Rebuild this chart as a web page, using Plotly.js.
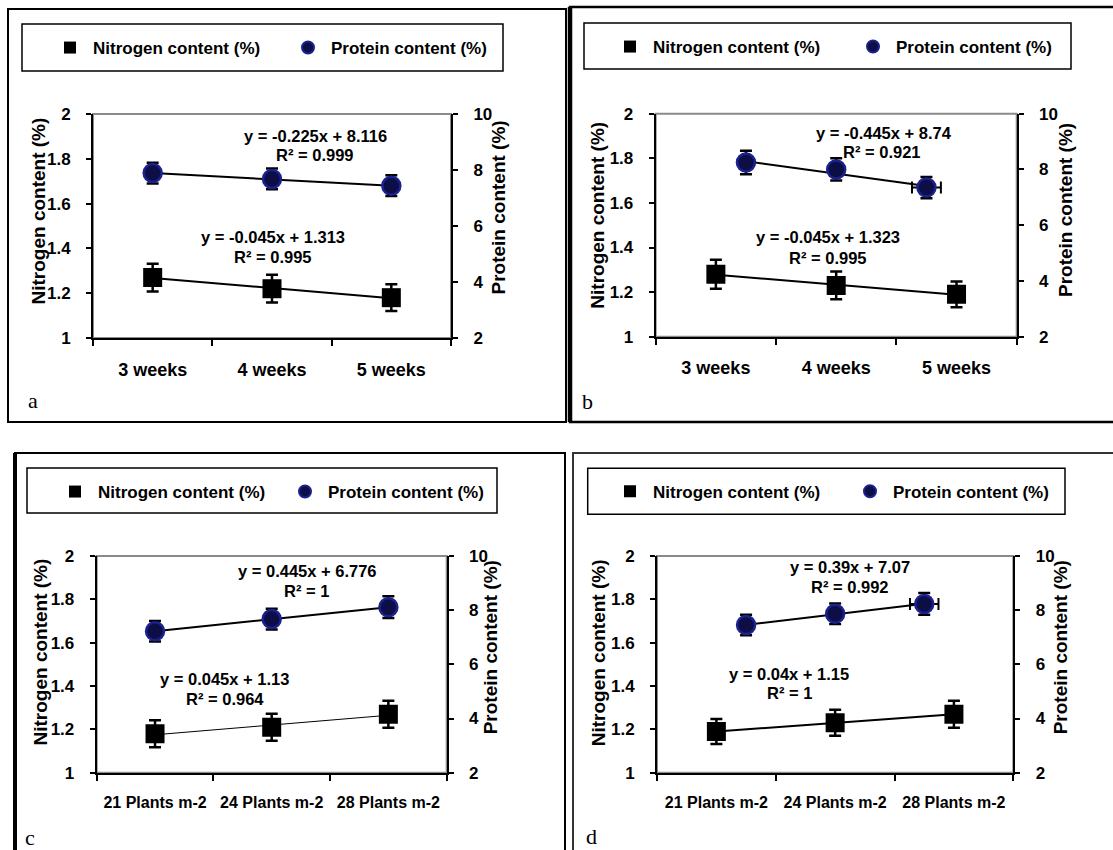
<!DOCTYPE html>
<html><head><meta charset="utf-8">
<script src="https://cdn.plot.ly/plotly-3.0.1.min.js"></script>
<style>html,body{margin:0;padding:0;background:#fff}#chart{width:1113px;height:850px}</style>
</head><body><div id="chart"></div>
<script>
// ---------------- DATA ----------------
const weeks = ['3 weeks', '4 weeks', '5 weeks'];
const densities = ['21 Plants m-2', '24 Plants m-2', '28 Plants m-2'];
const seriesNames = ['Nitrogen content (%)', 'Protein content (%)'];
const panelLetters = ['a', 'b', 'c', 'd'];

// Panel a (harvest time)
const nitrogenA = [1.27, 1.22, 1.18];
const nitrogenErrA = [0.062, 0.062, 0.06];
const proteinA = [7.89, 7.68, 7.44];
const proteinErrA = [0.37, 0.37, 0.37];
const proteinPosA = [0, 1, 2];
const trendNitrogenA = [1.268, 1.223, 1.178];
const trendProteinA = [7.891, 7.666, 7.441];
const eqA = ['y = -0.225x + 8.116', 'R² = 0.999', 'y = -0.045x + 1.313', 'R² = 0.995'];

// Panel b (harvest time)
const nitrogenB = [1.28, 1.23, 1.19];
const nitrogenErrB = [0.065, 0.062, 0.058];
const proteinB = [8.25, 8.0, 7.35];
const proteinErrB = [0.42, 0.4, 0.38];
const proteinXErrB = [0, 0, 0.12];
const proteinPosB = [0.25, 1, 1.75];
const trendNitrogenB = [1.278, 1.233, 1.188];
const trendProteinB = [8.295, 7.85, 7.405];
const eqB = ['y = -0.445x + 8.74', 'R² = 0.921', 'y = -0.045x + 1.323', 'R² = 0.995'];

// Panel c (plant density)
const nitrogenC = [1.18, 1.21, 1.27];
const nitrogenErrC = [0.062, 0.062, 0.062];
const proteinC = [7.22, 7.67, 8.11];
const proteinErrC = [0.38, 0.38, 0.4];
const proteinPosC = [0, 1, 2];
const trendNitrogenC = [1.175, 1.22, 1.265];
const trendProteinC = [7.221, 7.666, 8.111];
const eqC = ['y = 0.445x + 6.776', 'R² = 1', 'y = 0.045x + 1.13', 'R² = 0.964'];

// Panel d (plant density)
const nitrogenD = [1.19, 1.23, 1.27];
const nitrogenErrD = [0.058, 0.06, 0.062];
const proteinD = [7.45, 7.87, 8.23];
const proteinErrD = [0.38, 0.38, 0.4];
const proteinXErrD = [0, 0, 0.12];
const proteinPosD = [0.25, 1, 1.75];
const trendNitrogenD = [1.19, 1.23, 1.27];
const trendProteinD = [7.46, 7.85, 8.24];
const eqD = ['y = 0.39x + 7.07', 'R² = 0.992', 'y = 0.04x + 1.15', 'R² = 1'];

// ---------------- LAYOUT HELPERS ----------------
const W = 1113, H = 850;
const px = x => x / W;
const py = y => 1 - y / H;
const FONT = 'Liberation Sans, Arial, sans-serif';
const SERIF = 'Liberation Serif, Times New Roman, serif';

const panels = [
  {cats: weeks, n: nitrogenA, nErr: nitrogenErrA, p: proteinA, pErr: proteinErrA, pPos: proteinPosA, pXErr: null,
   tN: trendNitrogenA, tP: trendProteinA, eq: eqA, nTrendW: 2, xFont: 18,
   plot: [93, 451, 114, 338], legX: 47, legY: 48, legEW: 187, legBox: [22, 24, 503, 71],
   eqPos: [[315, 136], [315, 155], [273, 237], [273, 257]],
   titleL: [37.5, 211], titleR: [497.5, 208], letter: [33, 414]},
  {cats: weeks, n: nitrogenB, nErr: nitrogenErrB, p: proteinB, pErr: proteinErrB, pPos: proteinPosB, pXErr: proteinXErrB,
   tN: trendNitrogenB, tP: trendProteinB, eq: eqB, nTrendW: 2, xFont: 18,
   plot: [655.7, 1016.7, 113.7, 336.7], legX: 607, legY: 47, legEW: 192, legBox: [584, 23, 1071, 69],
   eqPos: [[883.7, 132.7], [882, 151.7], [827.5, 237.3], [827.5, 257.7]],
   titleL: [596.7, 215], titleR: [1065, 210], letter: [587, 415]},
  {cats: densities, n: nitrogenC, nErr: nitrogenErrC, p: proteinC, pErr: proteinErrC, pPos: proteinPosC, pXErr: null,
   tN: trendNitrogenC, tP: trendProteinC, eq: eqC, nTrendW: 1, xFont: 16,
   plot: [96.7, 446.7, 556, 772.7], legX: 52, legY: 492, legEW: 179, legBox: [27, 468, 497, 513],
   eqPos: [[307.5, 570.7], [306.7, 590.7], [224.3, 679], [224.5, 699]],
   titleL: [40, 652.5], titleR: [490.8, 647.5], letter: [30, 851]},
  {cats: densities, n: nitrogenD, nErr: nitrogenErrD, p: proteinD, pErr: proteinErrD, pPos: proteinPosD, pXErr: proteinXErrD,
   tN: trendNitrogenD, tP: trendProteinD, eq: eqD, nTrendW: 2, xFont: 16,
   plot: [657, 1013.3, 556, 772.7], legX: 607, legY: 491.7, legEW: 189, legBox: [587.7, 468.3, 1065, 514.3],
   eqPos: [[850.3, 567.3], [850, 587.3], [789.2, 674], [789, 693.3]],
   titleL: [598.3, 653], titleR: [1060.8, 647.5], letter: [592, 850]}
];

const ref = (p, n) => n === 1 ? p : p + n;
const key = (p, n) => n === 1 ? p + 'axis' : p + 'axis' + n;

const data = [];
const layout = {
  width: W, height: H, autosize: false,
  margin: {l: 0, r: 0, t: 0, b: 0, pad: 0, autoexpand: false},
  paper_bgcolor: '#fff', plot_bgcolor: 'rgba(0,0,0,0)',
  showlegend: true, shapes: [], annotations: [],
  font: {family: FONT, color: '#000'}
};

panels.forEach((P, i) => {
  const nx = 2 * i + 1, nxo = 2 * i + 2, ny = 2 * i + 1, ny2 = 2 * i + 2;
  const legKey = i === 0 ? 'legend' : 'legend' + (i + 1);
  const tickFont = {family: FONT, size: 17, color: '#000', weight: 'bold'};

  layout[key('x', nx)] = {
    type: 'category', domain: [px(P.plot[0]), px(P.plot[1])], anchor: ref('y', ny),
    range: [-0.5, 2.5], tickson: 'boundaries', ticks: 'outside', ticklen: 6, tickwidth: 2, tickcolor: '#000',
    showline: true, linecolor: '#000', linewidth: 2, showgrid: false, zeroline: false, tickangle: 0,
    tickfont: {family: FONT, size: P.xFont, color: '#000', weight: 'bold'}, ticklabelstandoff: 14, fixedrange: true
  };
  layout[key('x', nxo)] = {
    overlaying: ref('x', nx), anchor: ref('y', ny), range: [-0.5, 2.5], visible: false,
    showgrid: false, zeroline: false, fixedrange: true
  };
  layout[key('y', ny)] = {
    domain: [py(P.plot[3]), py(P.plot[2])], anchor: ref('x', nx), range: [1, 2], tick0: 1, dtick: 0.2,
    ticks: 'outside', ticklen: 5, tickwidth: 2, tickcolor: '#000', showline: true, linecolor: '#000', linewidth: 2,
    showgrid: false, zeroline: false, tickfont: tickFont, ticklabelstandoff: 12, fixedrange: true
  };
  layout[key('y', ny2)] = {
    overlaying: ref('y', ny), side: 'right', anchor: ref('x', nx), range: [2, 10], tick0: 2, dtick: 2,
    ticks: 'outside', ticklen: 5, tickwidth: 2, tickcolor: '#000', showline: true, linecolor: '#000', linewidth: 2,
    showgrid: false, zeroline: false, tickfont: tickFont, ticklabelstandoff: 12, fixedrange: true
  };

  // trend lines
  data.push({x: P.cats, y: P.tN, xaxis: ref('x', nx), yaxis: ref('y', ny), mode: 'lines',
    line: {color: '#000', width: P.nTrendW}, showlegend: false, hoverinfo: 'skip'});
  data.push({x: P.pPos, y: P.tP, xaxis: ref('x', nxo), yaxis: ref('y', ny2), mode: 'lines',
    line: {color: '#000', width: 2}, showlegend: false, hoverinfo: 'skip'});

  // nitrogen
  data.push({x: P.cats, y: P.n, xaxis: ref('x', nx), yaxis: ref('y', ny), mode: 'markers',
    name: seriesNames[0], legend: legKey,
    marker: {symbol: 'square', size: 19, color: '#000'},
    error_y: {type: 'data', array: P.nErr, visible: true, color: '#000', thickness: 2.5, width: 6}});

  // protein
  const prot = {x: P.pPos, y: P.p, xaxis: ref('x', nxo), yaxis: ref('y', ny2), mode: 'markers',
    name: seriesNames[1], legend: legKey,
    marker: {symbol: 'circle', size: 18, color: '#0e0e46', line: {color: '#1b2290', width: 2.5}},
    error_y: {type: 'data', array: P.pErr, visible: true, color: '#000', thickness: 2.5, width: 6}};
  if (P.pXErr) prot.error_x = {type: 'data', array: P.pXErr, visible: true, color: '#000', thickness: 2, width: 6};
  data.push(prot);

  layout[legKey] = {
    orientation: 'h', x: px(P.legX), xanchor: 'left', y: py(P.legY), yanchor: 'middle',
    entrywidth: P.legEW, entrywidthmode: 'pixels', itemsizing: 'constant', itemwidth: 36, traceorder: 'normal',
    font: {family: FONT, size: 17, color: '#000', weight: 'bold'},
    bgcolor: 'rgba(0,0,0,0)', borderwidth: 0
  };

  // plot-area gray border (top edge visible)
  layout.shapes.push({type: 'rect', xref: ref('x', nx) + ' domain', yref: ref('y', ny) + ' domain',
    x0: 0, x1: 1, y0: 0, y1: 1, line: {color: '#8a8a8a', width: 2}, layer: 'below'});
  // legend box
  const b = P.legBox;
  layout.shapes.push({type: 'rect', xref: 'paper', yref: 'paper', x0: px(b[0]), x1: px(b[2]), y0: py(b[3]), y1: py(b[1]),
    line: {color: '#000', width: 1.5}});

  // equations
  P.eq.forEach((t, k) => {
    layout.annotations.push({text: t, xref: 'paper', yref: 'paper', x: px(P.eqPos[k][0]), y: py(P.eqPos[k][1]),
      xanchor: 'center', yanchor: 'middle', showarrow: false,
      font: {family: FONT, size: 16.5, color: '#000', weight: 'bold'}});
  });
  // axis titles
  layout.annotations.push({text: seriesNames[0], xref: 'paper', yref: 'paper', x: px(P.titleL[0]), y: py(P.titleL[1]),
    xanchor: 'center', yanchor: 'middle', textangle: -90, showarrow: false,
    font: {family: FONT, size: 19, color: '#000', weight: 'bold'}});
  layout.annotations.push({text: seriesNames[1], xref: 'paper', yref: 'paper', x: px(P.titleR[0]), y: py(P.titleR[1]),
    xanchor: 'center', yanchor: 'middle', textangle: -90, showarrow: false,
    font: {family: FONT, size: 19, color: '#000', weight: 'bold'}});
  // panel letter (anchored at its bottom edge)
  layout.annotations.push({text: panelLetters[i], xref: 'paper', yref: 'paper', x: px(P.letter[0]), y: py(P.letter[1]),
    xanchor: 'center', yanchor: 'bottom', showarrow: false, borderpad: 0,
    font: {family: SERIF, size: 22, color: '#000'}});
});

// panel frames
const frame = (x0, y0, x1, y1, w, c) => ({type: 'rect', xref: 'paper', yref: 'paper',
  x0: px(x0), x1: px(x1), y0: py(y1), y1: py(y0), line: {color: c || '#000', width: w}});
const vline = (x, y0, y1, w) => ({type: 'line', xref: 'paper', yref: 'paper',
  x0: px(x), x1: px(x), y0: py(y0), y1: py(y1), line: {color: '#000', width: w}});
layout.shapes.push(frame(8, 9, 566, 422, 2));
layout.shapes.push(frame(570, 7, 1130, 422, 2.5));
layout.shapes.push(vline(570, 7, 422, 4.5));
layout.shapes.push(frame(15, 453, 565, 870, 2));
layout.shapes.push(vline(15, 453, 870, 4));
layout.shapes.push(frame(573, 453, 1130, 870, 2, '#333'));

Plotly.newPlot('chart', data, layout, {displayModeBar: false, staticPlot: true});
</script>
</body></html>
